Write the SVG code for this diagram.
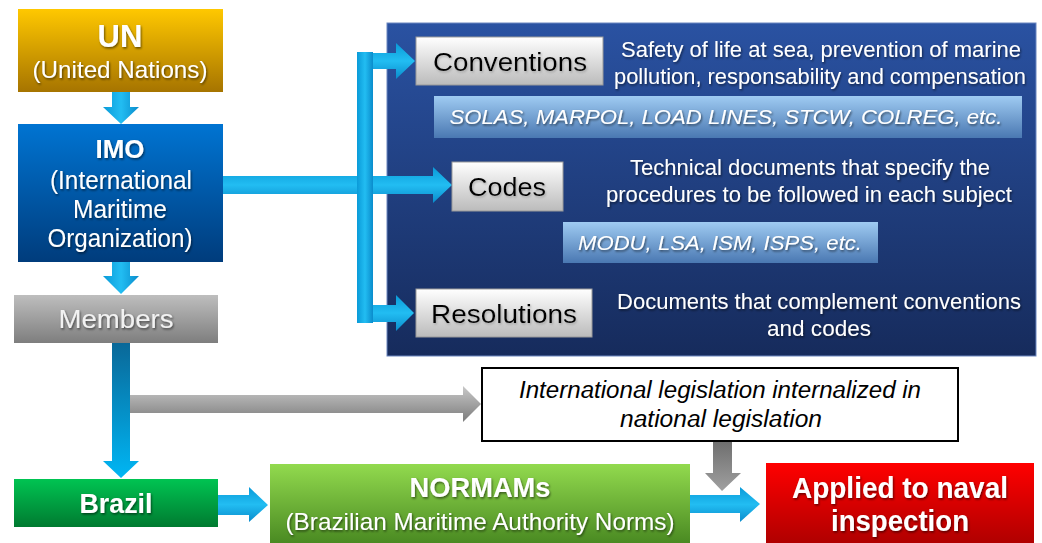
<svg xmlns="http://www.w3.org/2000/svg" width="1042" height="543" viewBox="0 0 1042 543">
<defs>
<linearGradient id="gUN" x1="0" y1="0" x2="0" y2="1"><stop offset="0" stop-color="#FFC800"/><stop offset="1" stop-color="#A67400"/></linearGradient>
<linearGradient id="gIMO" x1="0" y1="0" x2="0" y2="1"><stop offset="0" stop-color="#0074D2"/><stop offset="1" stop-color="#003C7C"/></linearGradient>
<linearGradient id="gMem" x1="0" y1="0" x2="0" y2="1"><stop offset="0" stop-color="#BEBEBE"/><stop offset="1" stop-color="#7E7E7E"/></linearGradient>
<linearGradient id="gBra" x1="0" y1="0" x2="0" y2="1"><stop offset="0" stop-color="#00C452"/><stop offset="1" stop-color="#007A30"/></linearGradient>
<linearGradient id="gNor" x1="0" y1="0" x2="0" y2="1"><stop offset="0" stop-color="#92DA4E"/><stop offset="1" stop-color="#4A8A22"/></linearGradient>
<linearGradient id="gApp" x1="0" y1="0" x2="0" y2="1"><stop offset="0" stop-color="#FF0000"/><stop offset="1" stop-color="#B00000"/></linearGradient>
<linearGradient id="gPan" x1="0" y1="0" x2="0" y2="1"><stop offset="0" stop-color="#2A52A2"/><stop offset="1" stop-color="#162B5C"/></linearGradient>
<linearGradient id="gWht" x1="0" y1="0" x2="0" y2="1"><stop offset="0" stop-color="#FFFFFF"/><stop offset="1" stop-color="#BBBBBB"/></linearGradient>
<linearGradient id="gLB" x1="0" y1="0" x2="0" y2="1"><stop offset="0" stop-color="#9FCBF2"/><stop offset="1" stop-color="#4A78B2"/></linearGradient>
<linearGradient id="gArrH" x1="0" y1="0" x2="0" y2="1"><stop offset="0" stop-color="#0A9AD8"/><stop offset="0.5" stop-color="#22BDF2"/><stop offset="1" stop-color="#0A8CCC"/></linearGradient>
<linearGradient id="gArrV" x1="0" y1="0" x2="1" y2="0"><stop offset="0" stop-color="#0A9AD8"/><stop offset="0.5" stop-color="#22BDF2"/><stop offset="1" stop-color="#0A8CCC"/></linearGradient>
<linearGradient id="gMemV" x1="0" y1="0" x2="0" y2="1"><stop offset="0" stop-color="#0A6898"/><stop offset="1" stop-color="#00B6F4"/></linearGradient>
<linearGradient id="gGreyH" x1="0" y1="0" x2="0" y2="1"><stop offset="0" stop-color="#C8C8C8"/><stop offset="1" stop-color="#7C7C7C"/></linearGradient>
<linearGradient id="gGreyV" x1="0" y1="0" x2="0" y2="1"><stop offset="0" stop-color="#6E6E6E"/><stop offset="1" stop-color="#A0A0A0"/></linearGradient>
<filter id="sh" x="-10%" y="-30%" width="120%" height="160%"><feDropShadow dx="1" dy="1.5" stdDeviation="1" flood-color="#000" flood-opacity="0.55"/></filter>
<filter id="shl" x="-10%" y="-30%" width="120%" height="160%"><feDropShadow dx="1" dy="1.5" stdDeviation="1" flood-color="#888" flood-opacity="0.6"/></filter>
</defs>
<style>
text{font-family:"Liberation Sans",Arial,sans-serif;text-anchor:middle}
.w{fill:#FFFFFF;filter:url(#sh)}
.b{font-weight:bold}
.k{fill:#000000;filter:url(#shl)}
.it{font-style:italic}
</style>
<rect x="0" y="0" width="1042" height="543" fill="#FFFFFF"/>

<g id="panel"><rect x="387" y="23" width="649" height="333" fill="url(#gPan)" stroke="#6A86C0" stroke-width="1"/></g>

<g id="connectors">
<path d="M112,92 H130 V107 H139 L121,124 L103,107 H112 Z" fill="url(#gArrV)"/>
<path d="M112,262 H130 V276 H139 L121,294 L103,276 H112 Z" fill="url(#gArrV)"/>
<path d="M223,176 H433 V167 L452,185 L433,203 V194 H223 Z" fill="url(#gArrH)"/>
<rect x="357" y="52" width="16" height="271" fill="url(#gArrV)"/>
<path d="M373,53 H396 V43 L415,61 L396,79 V69 H373 Z" fill="url(#gArrH)"/>
<path d="M373,305 H396 V295 L414,313 L396,331 V322 H373 Z" fill="url(#gArrH)"/>
<path d="M112,343 H130 V461 H139 L121,478 L103,461 H112 Z" fill="url(#gMemV)"/>
<path d="M130,395 H463 V386 L481,404 L463,422 V413 H130 Z" fill="url(#gGreyH)"/>
<path d="M713,441 H732 V473 H741 L722,491 L705,473 H713 Z" fill="url(#gGreyV)"/>
<path d="M218,495 H249 V487 L268,505 L249,522 V515 H218 Z" fill="url(#gArrH)"/>
<path d="M683,495 H740 V487 L760,504 L740,522 V513 H683 Z" fill="url(#gArrH)"/>
</g>

<g id="un">
<rect x="18" y="9" width="205" height="83" fill="url(#gUN)"/>
<text class="w b" x="120" y="47" font-size="31">UN</text>
<text class="w" x="120" y="78" font-size="24" textLength="175" lengthAdjust="spacingAndGlyphs">(United Nations)</text>
</g>

<g id="imo">
<rect x="18" y="124" width="205" height="138" fill="url(#gIMO)"/>
<text class="w b" x="120" y="158" font-size="26">IMO</text>
<text class="w" x="121" y="189" font-size="25" textLength="142" lengthAdjust="spacingAndGlyphs">(International</text>
<text class="w" x="120" y="218" font-size="25" textLength="94" lengthAdjust="spacingAndGlyphs">Maritime</text>
<text class="w" x="120" y="247" font-size="25" textLength="145" lengthAdjust="spacingAndGlyphs">Organization)</text>
</g>

<g id="members">
<rect x="14" y="295" width="204" height="48" fill="url(#gMem)"/>
<text x="116" y="328" font-size="26" fill="#F2F2F2" filter="url(#sh)" textLength="115" lengthAdjust="spacingAndGlyphs">Members</text>
</g>

<g id="conventions">
<rect x="416" y="37" width="187" height="48" fill="url(#gWht)" stroke="#9A9A9A" stroke-width="1"/>
<text class="k" x="510" y="71" font-size="26" textLength="154" lengthAdjust="spacingAndGlyphs">Conventions</text>
</g>
<g id="conventions-desc">
<text class="w" x="821" y="57" font-size="22" textLength="400" lengthAdjust="spacingAndGlyphs">Safety of life at sea, prevention of marine</text>
<text class="w" x="820" y="84" font-size="22" textLength="412" lengthAdjust="spacingAndGlyphs">pollution,  responsability  and compensation</text>
</g>
<g id="conventions-list">
<rect x="434" y="96" width="588" height="42" fill="url(#gLB)"/>
<text class="w it" x="726" y="124" font-size="21" textLength="553" lengthAdjust="spacingAndGlyphs">SOLAS, MARPOL, LOAD LINES, STCW, COLREG, etc.</text>
</g>

<g id="codes">
<rect x="452" y="162" width="111" height="49" fill="url(#gWht)" stroke="#9A9A9A" stroke-width="1"/>
<text class="k" x="507" y="196" font-size="26" textLength="78" lengthAdjust="spacingAndGlyphs">Codes</text>
</g>
<g id="codes-desc">
<text class="w" x="810" y="175" font-size="22" textLength="360" lengthAdjust="spacingAndGlyphs">Technical documents that specify the</text>
<text class="w" x="809" y="202" font-size="22" textLength="406" lengthAdjust="spacingAndGlyphs">procedures to be followed  in each subject</text>
</g>
<g id="codes-list">
<rect x="563" y="222" width="315" height="41" fill="url(#gLB)"/>
<text class="w it" x="720" y="250" font-size="21" textLength="284" lengthAdjust="spacingAndGlyphs">MODU, LSA, ISM, ISPS, etc.</text>
</g>

<g id="resolutions">
<rect x="416" y="289" width="176" height="48" fill="url(#gWht)" stroke="#9A9A9A" stroke-width="1"/>
<text class="k" x="504" y="323" font-size="26" textLength="146" lengthAdjust="spacingAndGlyphs">Resolutions</text>
</g>
<g id="resolutions-desc">
<text class="w" x="819" y="309" font-size="22" textLength="404" lengthAdjust="spacingAndGlyphs">Documents that complement  conventions</text>
<text class="w" x="819" y="336" font-size="22" textLength="104" lengthAdjust="spacingAndGlyphs">and codes</text>
</g>

<g id="legislation">
<rect x="482" y="368" width="476" height="73" fill="#FFFFFF" stroke="#000000" stroke-width="2"/>
<text class="it" x="720" y="398" font-size="23" fill="#000" textLength="402" lengthAdjust="spacingAndGlyphs">International legislation internalized in</text>
<text class="it" x="721" y="427" font-size="23" fill="#000" textLength="202" lengthAdjust="spacingAndGlyphs">national legislation</text>
</g>

<g id="brazil">
<rect x="14" y="479" width="204" height="48" fill="url(#gBra)"/>
<text class="w b" x="116" y="513" font-size="28" textLength="73" lengthAdjust="spacingAndGlyphs">Brazil</text>
</g>

<g id="normams">
<rect x="270" y="464" width="420" height="79" fill="url(#gNor)"/>
<text class="w b" x="480" y="497" font-size="27" textLength="141" lengthAdjust="spacingAndGlyphs">NORMAMs</text>
<text class="w" x="480" y="530" font-size="24" textLength="389" lengthAdjust="spacingAndGlyphs">(Brazilian Maritime Authority Norms)</text>
</g>

<g id="applied">
<rect x="766" y="463" width="268" height="80" fill="url(#gApp)"/>
<text class="w b" x="900" y="498" font-size="30" textLength="216" lengthAdjust="spacingAndGlyphs">Applied to naval</text>
<text class="w b" x="900" y="531" font-size="30" textLength="138" lengthAdjust="spacingAndGlyphs">inspection</text>
</g>
</svg>
